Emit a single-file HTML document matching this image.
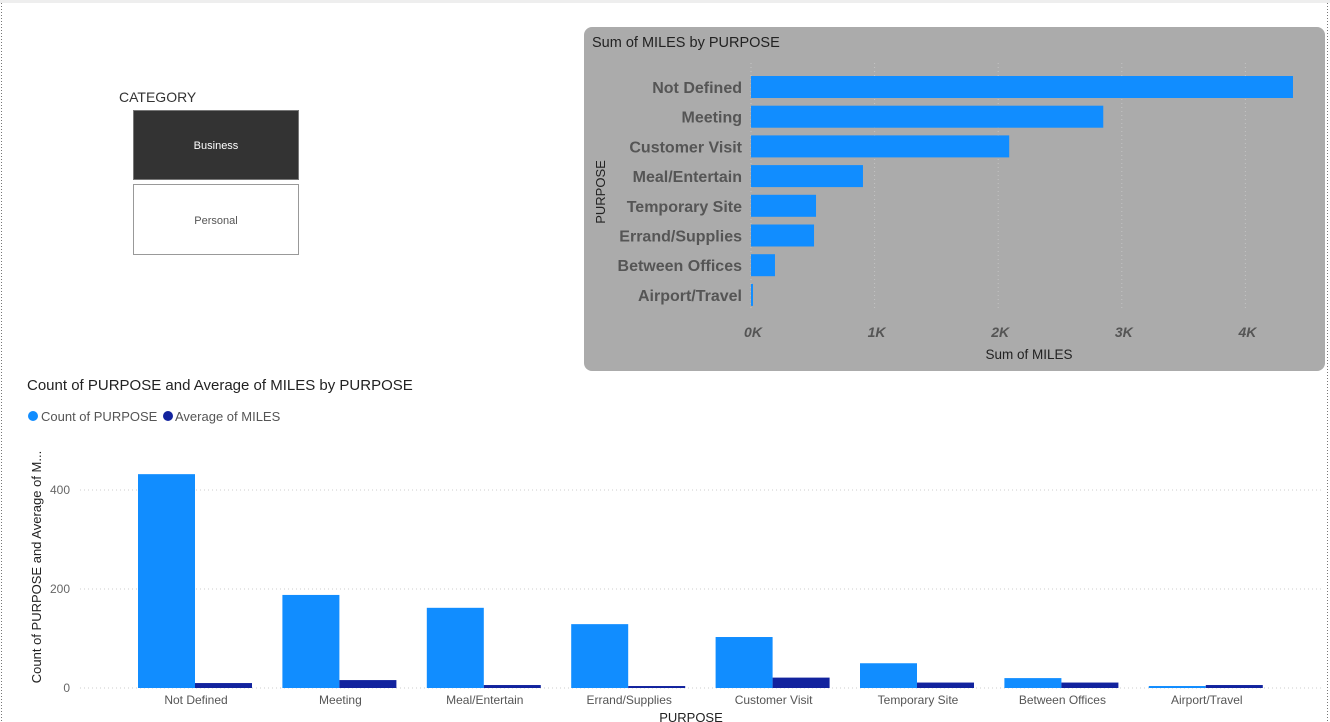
<!DOCTYPE html>
<html><head><meta charset="utf-8"><style>
html,body{margin:0;padding:0;background:#fff;width:1330px;height:722px;overflow:hidden;font-family:"Liberation Sans",sans-serif}
svg{position:absolute;left:0;top:0}
</style></head><body>
<svg id="s" width="1330" height="722">
<rect x="0" y="0" width="1330" height="3" fill="#eee"/>
<line x1="1.5" y1="3" x2="1.5" y2="722" stroke="#777" stroke-dasharray="1,2"/>
<line x1="1327.5" y1="3" x2="1327.5" y2="722" stroke="#777" stroke-dasharray="1,2"/>
<text x="119" y="102" font-size="14" fill="#333">CATEGORY</text>
<g><rect x="133.5" y="110.5" width="165" height="69" fill="#333" stroke="#777"/><text x="216" y="149" font-size="11" fill="#fff" text-anchor="middle">Business</text></g>
<g><rect x="133.5" y="184.5" width="165" height="70" fill="#fff" stroke="#999"/><text x="216" y="224" font-size="11" fill="#555" text-anchor="middle">Personal</text></g>
<rect x="584" y="27" width="741" height="344" rx="8" fill="#ababab"/>
<text x="592" y="47" font-size="14.5" fill="#222">Sum of MILES by PURPOSE</text>
<text transform="translate(605,192) rotate(-90)" font-size="13" fill="#222" text-anchor="middle">PURPOSE</text>
<text x="1029" y="359" font-size="13.5" fill="#222" text-anchor="middle">Sum of MILES</text>
<g id="hb"></g>
<text x="27" y="390" font-size="15" fill="#222">Count of PURPOSE and Average of MILES by PURPOSE</text>
<g><circle cx="33" cy="416" r="5" fill="#118dff"/><text x="41" y="421" font-size="13" fill="#555">Count of PURPOSE</text></g>
<g><circle cx="168" cy="416" r="5" fill="#12239e"/><text x="175" y="421" font-size="13" fill="#555">Average of MILES</text></g>
<text transform="translate(41,567) rotate(-90)" font-size="13" fill="#222" text-anchor="middle">Count of PURPOSE and Average of M...</text>
<text x="691" y="722" font-size="13" fill="#222" text-anchor="middle">PURPOSE</text>
<g id="vb"></g>
</svg>
<script>
const hCats=["Not Defined","Meeting","Customer Visit","Meal/Entertain","Temporary Site","Errand/Supplies","Between Offices","Airport/Travel"];
const hMiles=[4385,2850,2089,906,526,510,194,16];
const hTicks=[0,1000,2000,3000,4000];
const hTickLabels=["0K","1K","2K","3K","4K"];
const vCats=["Not Defined","Meeting","Meal/Entertain","Errand/Supplies","Customer Visit","Temporary Site","Between Offices","Airport/Travel"];
const vCount=[432,188,162,129,103,50,20,4];
const vAvg=[10,16,6,4,21,11,11,6];
const vTicks=[0,200,400];
const NS="http://www.w3.org/2000/svg";
function mk(p,t,a){const e=document.createElementNS(NS,t);for(const k in a)e.setAttribute(k,a[k]);p.appendChild(e);return e;}
const hx=v=>751+v*0.1236, hy=i=>87+i*29.7;
const hb=document.getElementById('hb');
hTicks.forEach((t,i)=>{
 const l=mk(hb,'line',{x1:hx(t),x2:hx(t),y1:63,y2:310,stroke:'#c4c4c4','stroke-dasharray':'1,3'});
 
 
 const tx=mk(hb,'text',{x:hx(t)+2,y:337,'font-size':14,'font-weight':'bold','font-style':'italic',fill:'#555','text-anchor':'middle'});
 tx.textContent=hTickLabels[i];
 
 
});
hCats.forEach((c,i)=>{
 const r=mk(hb,'rect',{x:751,y:hy(i)-11,width:Math.max(1.5,hx(hMiles[i])-751),height:22,fill:'#118dff'});
 
 
 const t=mk(hb,'text',{x:742,y:hy(i)+6,'font-size':16,'font-weight':'bold',fill:'#555','text-anchor':'end'});
 t.textContent=c;
 
 
});
const vy=v=>688-v*0.495, vx=i=>195+i*144.4;
const vb=document.getElementById('vb');
vTicks.forEach(t=>{
 const l=mk(vb,'line',{x1:80,x2:1322,y1:vy(t),y2:vy(t),stroke:'#ccc','stroke-dasharray':'1,3'});
 
 
 const tx=mk(vb,'text',{x:70,y:vy(t)+4,'font-size':12,fill:'#666','text-anchor':'end'});
 tx.textContent=t;
 
 
});
vCats.forEach((c,i)=>{
 const a=mk(vb,'rect',{x:vx(i)-57,y:vy(vCount[i]),width:57,height:vCount[i]*0.495,fill:'#118dff'});
 
 
 const b=mk(vb,'rect',{x:vx(i),y:vy(vAvg[i]),width:57,height:vAvg[i]*0.495,fill:'#12239e'});
 
 
 const t=mk(vb,'text',{x:vx(i)+1,y:704,'font-size':12,fill:'#555','text-anchor':'middle'});
 t.textContent=c;
 
 
});
</script>
</body></html>
